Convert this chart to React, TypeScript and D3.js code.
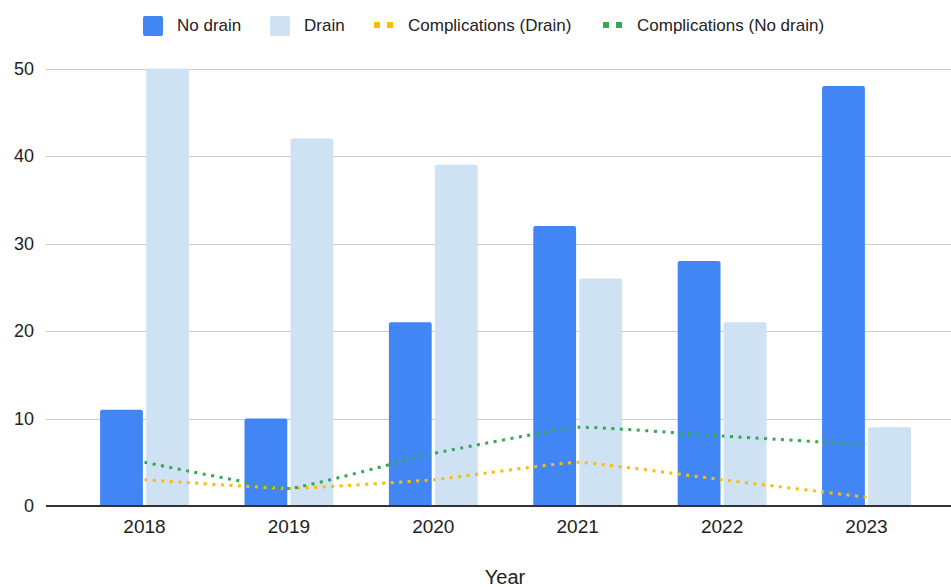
import React from 'react';
import * as d3 from 'd3';

const years = ['2018', '2019', '2020', '2021', '2022', '2023'];
const noDrain = [11, 10, 21, 32, 28, 48];
const drain = [50, 42, 39, 26, 21, 9];
const compDrain = [3, 2, 3, 5, 3, 1];
const compNoDrain = [5, 2, 6, 9, 8, 7];
const yTicks = [0, 10, 20, 30, 40, 50];
const legendLabels = ['No drain', 'Drain', 'Complications (Drain)', 'Complications (No drain)'];

const W = 951;
const H = 587;
const FONT = '"Liberation Sans", Arial, Helvetica, sans-serif';
const C_NO = '#4285f4';
const C_DR = '#cfe2f3';
const C_Y = '#fbbc04';
const C_G = '#34a853';

function topRounded(x: number, y: number, w: number, h: number, r: number) {
  const rr = Math.min(r, h / 2, w / 2);
  return `M${x},${y + h}V${y + rr}Q${x},${y} ${x + rr},${y}H${x + w - rr}Q${x + w},${y} ${x + w},${y + rr}V${y + h}Z`;
}

export default function App() {
  const x = d3.scaleBand<string>().domain(years).range([72.3, 938.7]).paddingInner(0.385).paddingOuter(0.1925);
  const sub = d3.scaleBand<string>().domain(['no', 'dr']).range([0, x.bandwidth()]).paddingInner(0.07);
  const y = d3.scaleLinear().domain([0, 50]).range([506, 68.5]);
  const cx = (yr: string) => (x(yr) as number) + x.bandwidth() / 2;

  const line = d3
    .line<number>()
    .x((_, i) => cx(years[i]))
    .y((d) => y(d))
    .curve(d3.curveCardinal.tension(0.7));

  const legendX = [143, 270, 374, 603];
  const legendKinds = ['bar', 'bar', 'line', 'line'];
  const legendColors = [C_NO, C_DR, C_Y, C_G];

  return (
    <svg width={W} height={H} style={{ position: 'absolute', left: 0, top: 0, background: '#fff' }} fontFamily={FONT}>
      {/* gridlines */}
      {yTicks.filter((t) => t !== 0).map((t) => (
        <line key={t} x1={46} x2={W} y1={Math.round(y(t)) + 0.5} y2={Math.round(y(t)) + 0.5} stroke="#cccccc" strokeWidth={1} />
      ))}
      {/* y labels */}
      {yTicks.map((t) => (
        <text key={t} x={34} y={y(t) + 6} textAnchor="end" fontSize={18} fill="#222">
          {t}
        </text>
      ))}
      {/* bars */}
      {years.map((yr, i) => {
        const x0 = x(yr) as number;
        const b1 = x0 + (sub('no') as number);
        const b2 = x0 + (sub('dr') as number);
        const bw = sub.bandwidth();
        return (
          <g key={yr}>
            <path d={topRounded(b1, y(noDrain[i]), bw, y(0) - y(noDrain[i]), 2)} fill={C_NO} />
            <path d={topRounded(b2, y(drain[i]), bw, y(0) - y(drain[i]), 2)} fill={C_DR} />
          </g>
        );
      })}
      {/* baseline */}
      <line x1={46} x2={W} y1={y(0)} y2={y(0)} stroke="#333" strokeWidth={2} />
      {/* lines */}
      <path d={line(compDrain) || ''} fill="none" stroke={C_Y} strokeWidth={3} strokeDasharray="3 5.5" />
      <path d={line(compNoDrain) || ''} fill="none" stroke={C_G} strokeWidth={3} strokeDasharray="3 5.5" />
      {/* x labels */}
      {years.map((yr) => (
        <text key={yr} x={cx(yr)} y={533} textAnchor="middle" fontSize={19} fill="#222">
          {yr}
        </text>
      ))}
      <text x={505} y={584} textAnchor="middle" fontSize={20} fill="#222">
        Year
      </text>
      {/* legend */}
      {legendLabels.map((lab, i) => (
        <g key={lab}>
          {legendKinds[i] === 'bar' ? (
            <rect x={legendX[i]} y={16} width={20} height={20} rx={2} fill={legendColors[i]} />
          ) : (
            <g fill={legendColors[i]}>
              <rect x={legendX[i]} y={22} width={6} height={6} />
              <rect x={legendX[i] + 13} y={22} width={6} height={6} />
            </g>
          )}
          <text x={legendX[i] + 34} y={31} fontSize={17} fill="#222">
            {lab}
          </text>
        </g>
      ))}
    </svg>
  );
}
